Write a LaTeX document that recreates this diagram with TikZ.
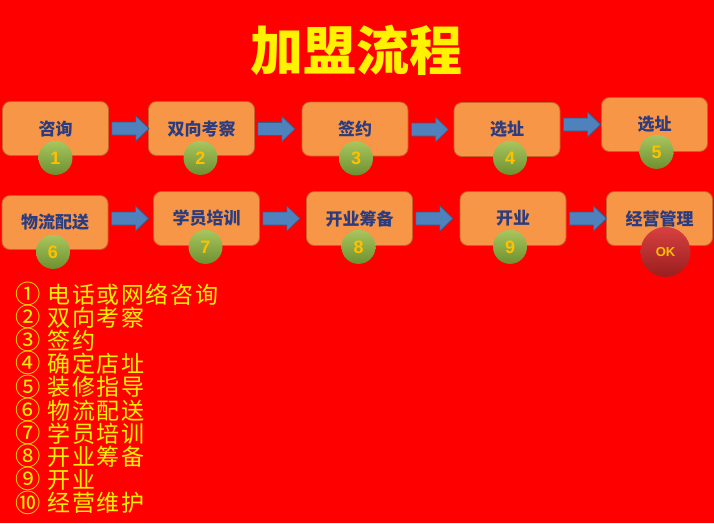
\documentclass[tikz,border=0pt]{standalone}
\usepackage{fontspec}
\setmainfont{Noto Sans CJK SC}
\newfontfamily\numfont{Liberation Sans}
\newfontfamily\listfont[LetterSpace=7]{Noto Sans CJK SC}
\usetikzlibrary{calc}
\definecolor{bgred}{HTML}{FF0000}
\definecolor{boxorange}{HTML}{F79646}
\definecolor{boxedge}{HTML}{C8642A}
\definecolor{boxtext}{HTML}{2B3D80}
\definecolor{arrowblue}{HTML}{4F81BD}
\definecolor{arrowedge}{HTML}{385D8A}
\definecolor{gtop}{HTML}{A8C65E}
\definecolor{gbot}{HTML}{6E9030}
\definecolor{rtop}{HTML}{D84040}
\definecolor{rbot}{HTML}{9A1E1E}
\definecolor{numyellow}{HTML}{FFC000}
\definecolor{listyellow}{HTML}{FFF200}
\tikzset{
  stepbox/.style={rounded corners=8pt, fill=boxorange, draw=boxedge, line width=0.8pt,
    minimum width=106pt, minimum height=54pt, inner sep=0pt, text=boxtext,
    font=\fontsize{17}{17}\selectfont\bfseries},
  numc/.style={circle, minimum size=34pt, inner sep=0pt, top color=gtop, bottom color=gbot,
    text=numyellow, font=\numfont\fontsize{18}{18}\selectfont\bfseries},
  okc/.style={circle, minimum size=50pt, inner sep=0pt, top color=rtop, bottom color=rbot,
    text=numyellow, font=\numfont\fontsize{13}{13}\selectfont\bfseries},
  listline/.style={anchor=west, inner sep=0pt, text=listyellow, text height=17pt, text depth=1pt,
    font=\listfont\fontsize{23}{23}\selectfont},
  titletext/.style={text=yellow, font=\fontsize{53}{53}\selectfont\bfseries},
  barrowstyle/.style={fill=arrowblue, draw=arrowedge, line width=0.6pt}
}
\newcommand\blockarrow[2]{%
  \path[barrowstyle] let \p1=(#1.east), \p2=(#2.west) in
    (\x1+3pt,\y2+6.5pt) -- (\x1+27pt,\y2+6.5pt) -- (\x1+27pt,\y2+12.5pt) --
    (\x1+40pt,\y2) -- (\x1+27pt,\y2-12.5pt) -- (\x1+27pt,\y2-6.5pt) --
    (\x1+3pt,\y2-6.5pt) -- cycle;}
\newcommand\lst[2]{\raisebox{-0.3pt}{\scalebox{1.1}{#1}}\hspace{7pt}#2}
\begin{document}
\begin{tikzpicture}[x=1pt,y=-1pt]
\fill[bgred] (0,0) rectangle (714,523);
\useasboundingbox (0,0) rectangle (714,523);

\node[titletext] (title) at (356,50) {加盟流程};

% row 1
\node[stepbox] (b1) at (55.5,128.5) {咨询};
\node[stepbox] (b2) at (201.5,128.5) {双向考察};
\node[stepbox] (b3) at (355,129) {签约};
\node[stepbox] (b4) at (507,129.5) {选址};
\node[stepbox] (b5) at (654.5,124.5) {选址};
% row 2
\node[stepbox] (b6) at (55,222.5) {物流配送};
\node[stepbox] (b7) at (206.5,218.5) {学员培训};
\node[stepbox] (b8) at (359.5,218.5) {开业筹备};
\node[stepbox] (b9) at (513,218.5) {开业};
\node[stepbox] (b10) at (659.5,218.5) {经营管理};

\blockarrow{b1}{b2}
\blockarrow{b2}{b3}
\blockarrow{b3}{b4}
\blockarrow{b4}{b5}
\blockarrow{b6}{b7}
\blockarrow{b7}{b8}
\blockarrow{b8}{b9}
\blockarrow{b9}{b10}

\node[numc] (c1) at ($(b1.south)+(0,2)$) {1};
\node[numc] (c2) at ($(b2.south)+(-1,2)$) {2};
\node[numc] (c3) at ($(b3.south)+(1,2)$) {3};
\node[numc] (c4) at ($(b4.south)+(3,1)$) {4};
\node[numc] (c5) at ($(b5.south)+(2,0)$) {5};
\node[numc] (c6) at ($(b6.south)+(-2,2)$) {6};
\node[numc] (c7) at ($(b7.south)+(-1,1)$) {7};
\node[numc] (c8) at ($(b8.south)+(-1,1)$) {8};
\node[numc] (c9) at ($(b9.south)+(-3,1)$) {9};
\node[okc] (ok) at ($(b10.south)+(6,6)$) {OK};

\node[listline] (l1) at (15,295) {\lst{①}{电话或网络咨询}};
\node[listline] (l2) at (15,318.2) {\lst{②}{双向考察}};
\node[listline] (l3) at (15,341.4) {\lst{③}{签约}};
\node[listline] (l4) at (15,364.6) {\lst{④}{确定店址}};
\node[listline] (l5) at (15,387.8) {\lst{⑤}{装修指导}};
\node[listline] (l6) at (15,411) {\lst{⑥}{物流配送}};
\node[listline] (l7) at (15,434.2) {\lst{⑦}{学员培训}};
\node[listline] (l8) at (15,457.4) {\lst{⑧}{开业筹备}};
\node[listline] (l9) at (15,480.6) {\lst{⑨}{开业}};
\node[listline] (l10) at (15,503.8) {\lst{⑩}{经营维护}};
\end{tikzpicture}
\end{document}
